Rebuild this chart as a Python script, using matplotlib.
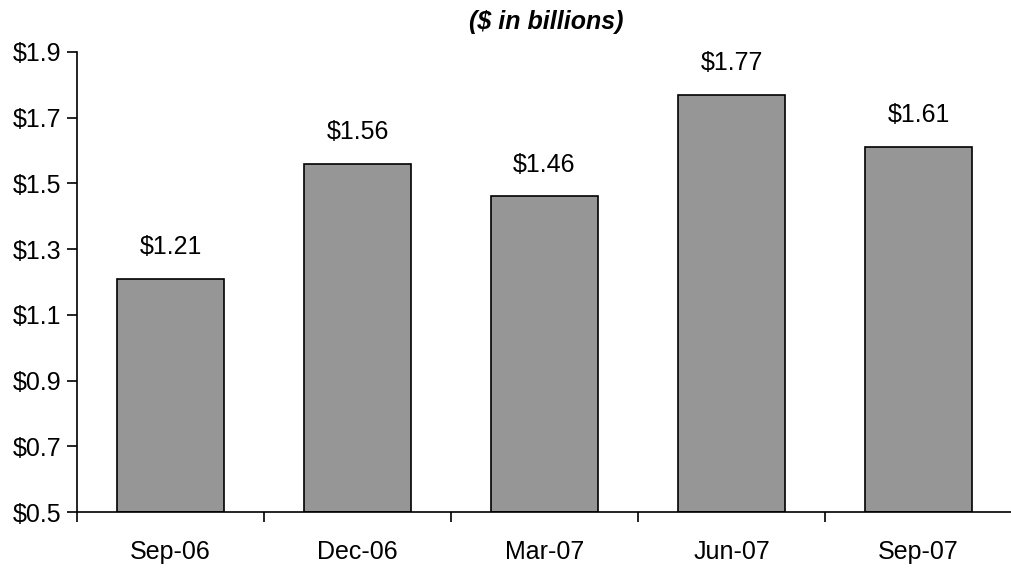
import matplotlib.pyplot as plt
import numpy as np

plt.rcParams['font.family'] = ['Liberation Sans', 'DejaVu Sans']

# quarter-end values, $ billions
quarters = ['Sep-06', 'Dec-06', 'Mar-07', 'Jun-07', 'Sep-07']
values = [1.21, 1.56, 1.46, 1.77, 1.61]
yticks = [0.5, 0.7, 0.9, 1.1, 1.3, 1.5, 1.7, 1.9]

fig = plt.figure(figsize=(10.12, 5.71), dpi=100)
ax = fig.add_axes([0.0761, 0.1033, 0.9239, 0.806])

x = np.arange(len(quarters))
ax.bar(x, np.array(values) - 0.5, bottom=0.5, width=0.57,
       color='#969696', edgecolor='black', linewidth=1.2)

for xi, v in zip(x, values):
    ax.text(xi, v + 0.06, '$%.2f' % v, ha='center', va='bottom', fontsize=18)

ax.set_xlim(-0.5, 4.5)
ax.set_ylim(0.5, 1.9)
ax.set_yticks(yticks)
ax.set_yticklabels(['$%.1f' % t for t in yticks], fontsize=18)

# category labels centred, tick marks between categories
ax.set_xticks(x)
ax.set_xticklabels(quarters, fontsize=18)
ax.tick_params(axis='x', length=0, pad=20)
ax.set_xticks(np.arange(-0.5, 4.5, 1.0), minor=True)
ax.tick_params(axis='x', which='minor', length=7, width=1.2, direction='out')
ax.tick_params(axis='y', length=7, width=1.2, direction='out', pad=4)

ax.spines['top'].set_visible(False)
ax.spines['right'].set_visible(False)
ax.spines['left'].set_linewidth(1.2)
ax.spines['bottom'].set_linewidth(1.2)

fig.text(0.54, 0.962, '($ in billions)', ha='center', va='center',
         fontsize=18, fontweight='bold', fontstyle='italic')

fig.savefig('out.png', dpi=100)
